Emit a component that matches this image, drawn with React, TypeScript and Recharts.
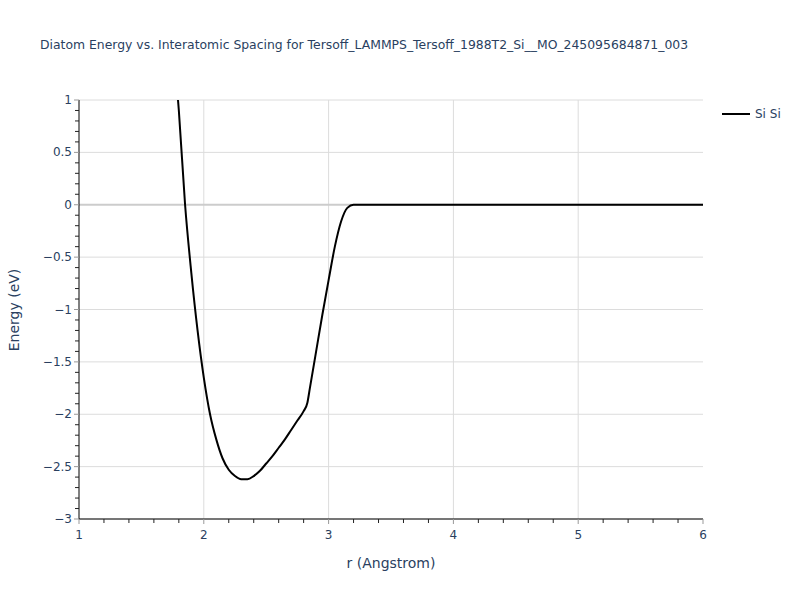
import React from "react";
import {
  Line,
  LineChart,
  CartesianGrid,
  XAxis,
  YAxis,
  ReferenceLine,
} from "recharts";

// r (Angstrom) values and diatom energy (eV)
const rValues = [
  1.75, 1.8, 1.85, 1.9, 1.95, 2.0, 2.05, 2.1, 2.15, 2.2, 2.25, 2.3, 2.35, 2.4,
  2.45, 2.5, 2.55, 2.6, 2.65, 2.7, 2.75, 2.8, 2.83, 2.85, 2.9, 2.95, 3.0, 3.05,
  3.1, 3.15, 3.2, 3.3, 3.5, 4.0, 4.5, 5.0, 5.5, 6.0,
];
const energyValues = [
  1.55, 0.9, 0.0, -0.65, -1.2, -1.65, -2.0, -2.24, -2.42, -2.53, -2.59, -2.62,
  -2.62, -2.59, -2.54, -2.47, -2.4, -2.32, -2.24, -2.15, -2.06, -1.97, -1.89,
  -1.75, -1.4, -1.05, -0.72, -0.4, -0.16, -0.03, 0, 0, 0, 0, 0, 0, 0, 0,
];

const xTicks = Array.from({ length: 26 }, (_, i) => Math.round((1 + i * 0.2) * 10) / 10);
const yTicks = Array.from({ length: 41 }, (_, i) => Math.round((-3 + i * 0.1) * 10) / 10);

const data = rValues.map((r, i) => ({ r, e: energyValues[i] }));

const FONT = '"DejaVu Sans", Verdana, sans-serif';
const TEXT = "#2a3f5f";

const fmt = (v: number) => (v < 0 ? "\u2212" + String(-v) : String(v));

function XTick(props: any) {
  const { x, y, payload } = props;
  const v = payload.value;
  const major = Math.abs(v - Math.round(v)) < 1e-6;
  return (
    <g>
      <line x1={x} x2={x} y1={y} y2={y + (major ? 5 : 4)} stroke={major ? "#999" : "#222"} strokeWidth={1} />
      {major && (
        <text x={x} y={y + 20} textAnchor="middle" fontSize={12} fill={TEXT} fontFamily={FONT}>
          {fmt(v)}
        </text>
      )}
    </g>
  );
}

function YTick(props: any) {
  const { x, y, payload } = props;
  const v = payload.value;
  const major = Math.abs(v * 2 - Math.round(v * 2)) < 1e-6;
  return (
    <g>
      <line x1={x - (major ? 5 : 4)} x2={x} y1={y} y2={y} stroke={major ? "#999" : "#222"} strokeWidth={1} />
      {major && (
        <text x={x - 7} y={y + 4} textAnchor="end" fontSize={12} fill={TEXT} fontFamily={FONT}>
          {fmt(v)}
        </text>
      )}
    </g>
  );
}

export default function App() {
  return (
    <div style={{ position: "absolute", left: 0, top: 0, width: 800, height: 600, background: "#fff" }}>
      <div
        style={{
          position: "absolute",
          left: 40,
          top: 38,
          lineHeight: "14px",
          fontFamily: FONT,
          fontSize: 12.4,
          color: TEXT,
          whiteSpace: "nowrap",
        }}
      >
        Diatom Energy vs. Interatomic Spacing for Tersoff_LAMMPS_Tersoff_1988T2_Si__MO_245095684871_003
      </div>
      <div
        style={{
          position: "absolute",
          left: 0,
          width: 782,
          top: 555,
          lineHeight: "16px",
          textAlign: "center",
          fontFamily: FONT,
          fontSize: 14,
          color: TEXT,
        }}
      >
        r (Angstrom)
      </div>
      <div
        style={{
          position: "absolute",
          left: 14,
          top: 310,
          lineHeight: "16px",
          transform: "translate(-50%, -50%) rotate(-90deg)",
          fontFamily: FONT,
          fontSize: 14,
          color: TEXT,
          whiteSpace: "nowrap",
        }}
      >
        Energy (eV)
      </div>
      <div
        style={{
          position: "absolute",
          left: 720,
          top: 106,
          display: "flex",
          alignItems: "center",
          fontFamily: FONT,
          fontSize: 12,
          color: TEXT,
          lineHeight: "16px",
        }}
      >
        <svg width={32} height={16}>
          <line x1={2} x2={30} y1={8} y2={8} stroke="#000" strokeWidth={2} />
        </svg>
        <span style={{ marginLeft: 3 }}>Si Si</span>
      </div>
      <LineChart
        width={800}
        height={600}
        data={data}
        margin={{ top: 100, right: 97, bottom: 0, left: 0 }}
      >
        <CartesianGrid stroke="#dcdcdc" horizontalValues={[-3, -2.5, -2, -1.5, -1, -0.5, 0.5, 1]} verticalValues={[2, 3, 4, 5]} />
        <ReferenceLine y={0} stroke="#cccccc" strokeWidth={2} />
        <XAxis
          dataKey="r"
          type="number"
          domain={[1, 6]}
          ticks={xTicks}
          interval={0}
          allowDataOverflow
          height={81}
          tickSize={0}
          tickMargin={0}
          tick={<XTick />}
          axisLine={{ stroke: "#000", strokeWidth: 1 }}
        />
        <YAxis
          type="number"
          domain={[-3, 1]}
          ticks={yTicks}
          interval={0}
          allowDataOverflow
          width={79}
          tickSize={0}
          tickMargin={0}
          tick={<YTick />}
          axisLine={{ stroke: "#000", strokeWidth: 1 }}
        />
        <Line
          dataKey="e"
          name="Si Si"
          type="monotone"
          stroke="#000"
          strokeWidth={2}
          dot={false}
          isAnimationActive={false}
        />
      </LineChart>
    </div>
  );
}
